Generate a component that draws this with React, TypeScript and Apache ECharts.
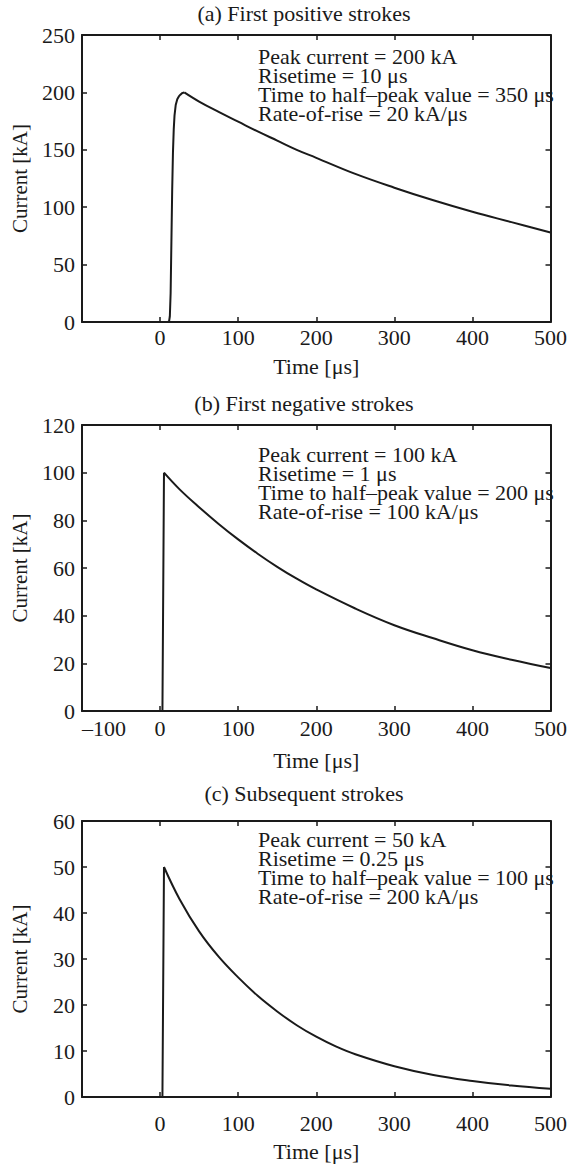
import React, { useEffect, useRef } from "react";
import * as echarts from "echarts";

// Panel (a) First positive strokes — rising front and decaying tail
const riseTimeA = [0, 10, 11.5, 12.5, 13.5, 14.5, 15.5, 16.5, 17.5, 18.5, 20, 22, 24, 26, 28, 31];
const riseCurrA = [0, 0, 0.5, 5, 25, 70, 115, 148, 168, 180, 189, 194, 196.5, 198, 199.3, 200];
const decayTimeA = [31, 50, 75, 100, 125, 150, 175, 200, 250, 300, 350, 400, 450, 500];
const decayCurrA = [200, 192, 183, 174.5, 166, 158, 150, 143, 129, 117, 106, 96, 87, 78];

// Panel (b) First negative strokes
const riseTimeB = [0, 3, 5];
const riseCurrB = [0, 0, 100];
const decayTimeB = [5, 25, 50, 75, 100, 125, 150, 175, 200, 250, 300, 350, 400, 450, 500];
const decayCurrB = [100, 93, 85.5, 78.5, 72, 66, 60.5, 55.5, 51, 43, 36, 30.5, 25.5, 21.5, 18];

// Panel (c) Subsequent strokes
const riseTimeC = [0, 3, 5];
const riseCurrC = [0, 0, 50];
const decayTimeC = [5, 25, 50, 75, 100, 125, 150, 175, 200, 225, 250, 300, 350, 400, 450, 500];
const decayCurrC = [50, 43, 36, 30.5, 26, 22, 18.6, 15.6, 13.1, 11.0, 9.3, 6.7, 4.8, 3.5, 2.5, 1.8];

const titles = ["(a) First positive strokes", "(b) First negative strokes", "(c) Subsequent strokes"];
const notes = [
  ["Peak current = 200 kA", "Risetime = 10 μs", "Time to half–peak value = 350 μs", "Rate-of-rise = 20 kA/μs"],
  ["Peak current = 100 kA", "Risetime = 1 μs", "Time to half–peak value = 200 μs", "Rate-of-rise = 100 kA/μs"],
  ["Peak current = 50 kA", "Risetime = 0.25 μs", "Time to half–peak value = 100 μs", "Rate-of-rise = 200 kA/μs"],
];
const yMax = [250, 120, 60];
const yStep = [50, 20, 10];
const showMinus100 = [false, true, false];

const FONT = "'Liberation Serif', 'Times New Roman', serif";
const FS = 22;
const INK = "#1a1a1a";

const pairs = (xs: number[], ys: number[]) => xs.map((x, i) => [x, ys[i]]);

export default function App() {
  const ref = useRef<HTMLDivElement>(null);
  useEffect(() => {
    if (!ref.current) return;
    const chart = echarts.init(ref.current, undefined, { renderer: "svg" });
    const grids = [
      { left: 82, right: 15, top: 35, height: 287 },
      { left: 82, right: 15, top: 425, height: 286 },
      { left: 82, right: 15, top: 821, height: 276 },
    ];
    const titleY = [13, 403, 793];
    const noteTop = [47, 445, 830];
    const labelMargin = [4, 6, 15];
    const timeGap = [33, 38, 43];
    const rises = [pairs(riseTimeA, riseCurrA), pairs(riseTimeB, riseCurrB), pairs(riseTimeC, riseCurrC)];
    const decays = [pairs(decayTimeA, decayCurrA), pairs(decayTimeB, decayCurrB), pairs(decayTimeC, decayCurrC)];
    const lineStyle = { color: INK, width: 2 };
    const tickStyle = { color: INK, width: 1.5 };
    const xAxis: any[] = [];
    const yAxis: any[] = [];
    const series: any[] = [];
    const graphic: any[] = [];
    for (let i = 0; i < 3; i++) {
      xAxis.push({
        type: "value",
        gridIndex: i,
        position: "bottom",
        min: -100,
        max: 500,
        interval: 100,
        splitLine: { show: false },
        axisLine: { show: true, onZero: false, lineStyle },
        axisTick: { show: true, inside: true, length: 5, lineStyle: tickStyle },
        axisLabel: {
          color: INK,
          fontFamily: FONT,
          fontSize: FS,
          margin: labelMargin[i],
          alignMinLabel: "left",
          formatter: (v: number) => (v === -100 ? (showMinus100[i] ? "–100" : "") : String(v)),
        },
        name: "Time [μs]",
        nameLocation: "middle",
        nameGap: timeGap[i],
        nameTextStyle: { color: INK, fontFamily: FONT, fontSize: FS },
      });
      xAxis.push({
        type: "value",
        gridIndex: i,
        position: "top",
        min: -100,
        max: 500,
        interval: 100,
        splitLine: { show: false },
        axisLine: { show: true, onZero: false, lineStyle },
        axisTick: { show: true, inside: true, length: 5, lineStyle: tickStyle },
        axisLabel: { show: false },
      });
      yAxis.push({
        type: "value",
        gridIndex: i,
        position: "left",
        min: 0,
        max: yMax[i],
        interval: yStep[i],
        splitLine: { show: false },
        axisLine: { show: true, onZero: false, lineStyle },
        axisTick: { show: true, inside: true, length: 5, lineStyle: tickStyle },
        axisLabel: { color: INK, fontFamily: FONT, fontSize: FS, margin: 7 },
        name: "Current [kA]",
        nameLocation: "middle",
        nameGap: 52,
        nameTextStyle: { color: INK, fontFamily: FONT, fontSize: 21 },
      });
      yAxis.push({
        type: "value",
        gridIndex: i,
        position: "right",
        min: 0,
        max: yMax[i],
        interval: yStep[i],
        splitLine: { show: false },
        axisLine: { show: true, onZero: false, lineStyle },
        axisTick: { show: true, inside: true, length: 5, lineStyle: tickStyle },
        axisLabel: { show: false },
      });
      series.push({
        type: "line",
        xAxisIndex: i * 2,
        yAxisIndex: i * 2,
        data: rises[i],
        showSymbol: false,
        symbol: "none",
        smooth: false,
        lineStyle: { color: INK, width: 2 },
        z: 3,
      });
      series.push({
        type: "line",
        xAxisIndex: i * 2,
        yAxisIndex: i * 2,
        data: decays[i],
        showSymbol: false,
        symbol: "none",
        smooth: 0.4,
        lineStyle: { color: INK, width: 2 },
        z: 3,
      });
      graphic.push({
        type: "text",
        x: 304,
        y: titleY[i],
        style: {
          text: titles[i],
          fill: INK,
          font: `${FS}px ${FONT}`,
          align: "center",
          verticalAlign: "middle",
        },
      });
      graphic.push({
        type: "text",
        x: 258,
        y: noteTop[i],
        z: 10,
        style: {
          text: notes[i].join("\n"),
          fill: INK,
          font: `${FS}px ${FONT}`,
          lineHeight: 19,
          align: "left",
          verticalAlign: "top",
        },
      });
    }
    chart.setOption({
      animation: false,
      backgroundColor: "#ffffff",
      grid: grids,
      xAxis,
      yAxis,
      series,
      graphic,
    });
    return () => chart.dispose();
  }, []);
  return (
    <div
      ref={ref}
      style={{ position: "absolute", left: 0, top: 0, width: 570, height: 1166, background: "#fff" }}
    />
  );
}
